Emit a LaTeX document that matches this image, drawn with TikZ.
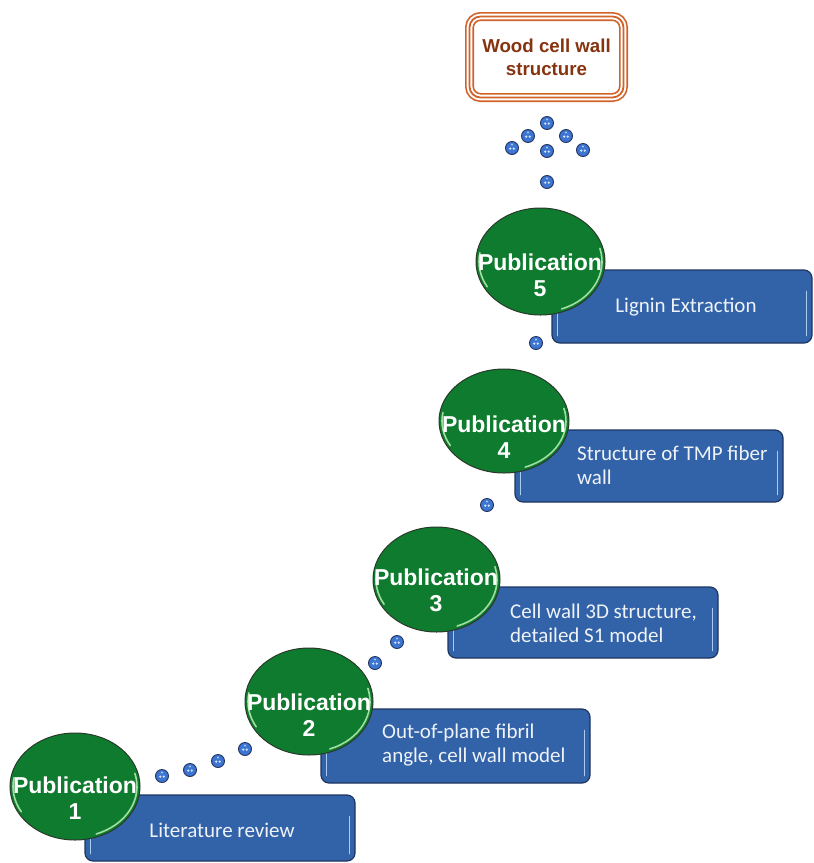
\documentclass[tikz,border=0pt]{standalone}
\usepackage{fontspec}
\setmainfont{Liberation Sans}
\newfontfamily\boxfont{Carlito}
\usetikzlibrary{shapes.geometric,calc}
\definecolor{pubgreen}{HTML}{0F7B2F}
\definecolor{pubedge}{HTML}{2A3A2A}
\definecolor{pubhl}{HTML}{9FE0A0}
\definecolor{boxblue}{HTML}{3262A8}
\definecolor{boxedge}{HTML}{1E3560}
\definecolor{boxhl}{HTML}{A8CCF0}
\definecolor{titleorange}{HTML}{D0622A}
\definecolor{titletext}{HTML}{86330F}
\definecolor{beadblue}{HTML}{3C76D2}
\definecolor{beadedge}{HTML}{22335E}
\tikzset{
  pubell/.style={ellipse, draw=pubedge, line width=1pt, fill=pubgreen, inner sep=0pt},
  pubtext/.style={text=white, font=\fontsize{23}{26}\selectfont\bfseries, align=center, inner sep=0pt},
  descbox/.style={rectangle, rounded corners=8pt, draw=boxedge, line width=1.2pt, fill=boxblue, inner sep=0pt},
  desctext/.style={text=white!92!boxblue, font=\boxfont\fontsize{21}{24}\selectfont, align=left, inner sep=0pt},
  bead/.style={circle, minimum size=13pt, inner sep=0pt, draw=beadedge, line width=0.9pt, fill=beadblue,
    path picture={
      \fill[white!80!beadblue] ($(path picture bounding box.center)+(-1.8,0.6)$) circle (1.3pt);
      \fill[white!80!beadblue] ($(path picture bounding box.center)+(1.8,0.6)$) circle (1.3pt);
      \fill[white!60!beadblue] ($(path picture bounding box.center)+(0,-3.5)$) circle (1.1pt);
    }},
  titlebox/.style={rectangle, rounded corners=11pt, minimum width=154pt, minimum height=81pt,
    preaction={fill=white, draw=titleorange, line width=9pt},
    draw=white, line width=5.6pt,
    postaction={draw=titleorange, line width=1.8pt},
    text=titletext, font=\fontsize{18.7}{23}\selectfont\bfseries, align=center},
  hl/.style={line width=1.6pt, draw=boxhl, line cap=round},
  ghl/.style={line width=1.6pt, draw=pubhl, line cap=round}
}
\begin{document}
\begin{tikzpicture}[x=1pt,y=-1pt]
\useasboundingbox (0,0) rectangle (814,863);

% title
\node[titlebox] (title) at (546.5,57) {Wood cell wall\\structure};

% description boxes
\node[descbox, minimum width=260pt, minimum height=73pt] (b5) at (682,306.5) {};
\node[descbox, minimum width=268pt, minimum height=72pt] (b4) at (649,466) {};
\node[descbox, minimum width=270pt, minimum height=71pt] (b3) at (583,622.5) {};
\node[descbox, minimum width=269pt, minimum height=74pt] (b2) at (455.5,746) {};
\node[descbox, minimum width=270pt, minimum height=66pt] (b1) at (220,828) {};

\foreach \b in {b1,b2,b3,b4,b5}{
  \draw[hl] ($(\b.north west)+(6,22)$) -- ($(\b.south west)+(6,-8)$);
  \draw[hl] ($(\b.north east)+(-6,22)$) -- ($(\b.south east)+(-6,-8)$);
}

\node[desctext] (t5) at (686,307) {Lignin Extraction};
\node[desctext, anchor=west] (t4) at (577,465.5) {Structure of TMP fiber\\wall};
\node[desctext, anchor=west] (t3) at (510,623) {Cell wall 3D structure,\\detailed S1 model};
\node[desctext, anchor=west] (t2) at (382,745) {Out-of-plane fibril\\angle, cell wall model};
\node[desctext] (t1) at (222,830) {Literature review};

% publication ellipses
\node[pubell, minimum width=129pt, minimum height=107pt] (p5) at (540.5,261.5) {};
\node[pubell, minimum width=130pt, minimum height=104pt] (p4) at (504,421) {};
\node[pubell, minimum width=127pt, minimum height=105pt] (p3) at (436.5,579.5) {};
\node[pubell, minimum width=128pt, minimum height=107pt] (p2) at (309,701.5) {};
\node[pubell, minimum width=130pt, minimum height=107pt] (p1) at (75,786.5) {};

\foreach \p/\rx/\ry in {p1/65/53.5,p2/64/53.5,p3/63.5/52.5,p4/65/52,p5/64.5/53.5}{
  \draw[ghl] ($(\p.center)+({(\rx-3)*cos(-15)},{(\ry-3)*sin(-15)})$)
     arc[start angle=-15, end angle=70, x radius=\rx-3, y radius=\ry-3];
  \draw[ghl] ($(\p.center)+({(\rx-3)*cos(150)},{(\ry-3)*sin(150)})$)
     arc[start angle=150, end angle=190, x radius=\rx-3, y radius=\ry-3];
}

\node[pubtext] (pt5) at (540,275) {Publication\\5};
\node[pubtext] (pt4) at (504,437) {Publication\\4};
\node[pubtext] (pt3) at (436,590) {Publication\\3};
\node[pubtext] (pt2) at (309,715) {Publication\\2};
\node[pubtext] (pt1) at (75,798) {Publication\\1};

% beads
\node[bead] (c1) at (547,123) {};
\node[bead] (c2) at (528,136) {};
\node[bead] (c3) at (566,136) {};
\node[bead] (c4) at (512,148) {};
\node[bead] (c5) at (547,151) {};
\node[bead] (c6) at (583,150) {};
\node[bead] (c7) at (547,182) {};
\node[bead] (d1) at (536,343) {};
\node[bead] (d2) at (487,505) {};
\node[bead] (d3) at (397,642) {};
\node[bead] (d4) at (375,663) {};
\node[bead] (d5) at (245,749) {};
\node[bead] (d6) at (218,761) {};
\node[bead] (d7) at (190,770) {};
\node[bead] (d8) at (162,776) {};
\end{tikzpicture}
\end{document}
